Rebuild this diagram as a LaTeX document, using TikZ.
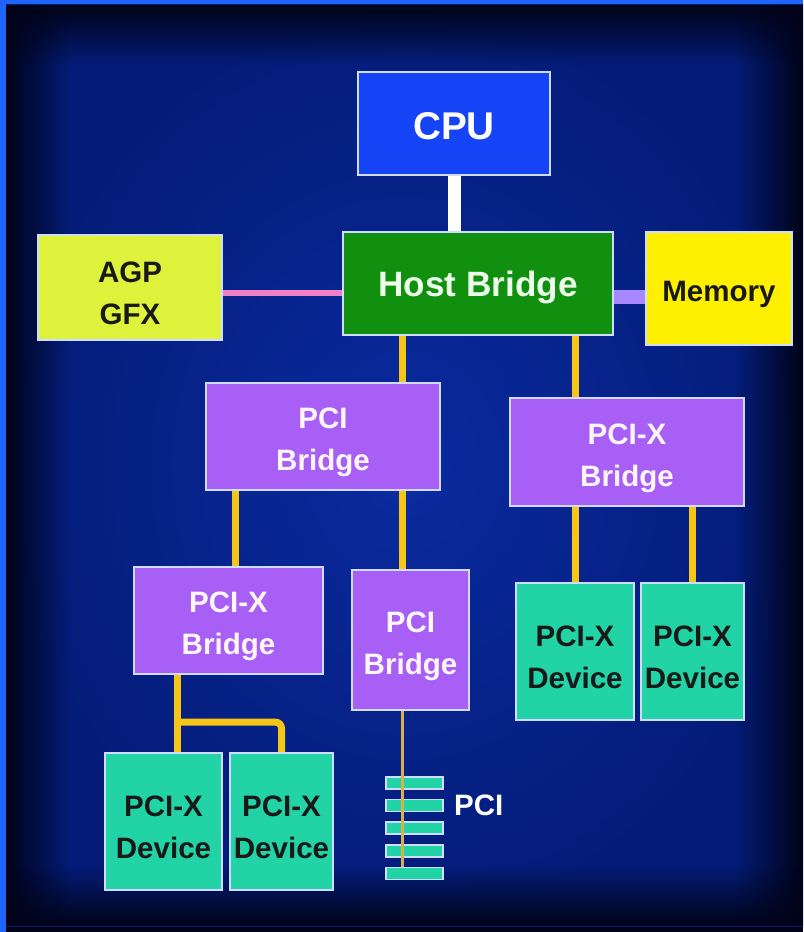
\documentclass[tikz,border=0pt]{standalone}
\usepackage{fontspec}
\setmainfont{Liberation Sans}
\usetikzlibrary{
  calc
  , positioning
  , fadings
}
\definecolor{glowIn}{HTML}{0A2BA0}
\definecolor{glowOut}{HTML}{041C78}
\definecolor{glowEdge}{HTML}{000318}
\definecolor{frameBlue}{HTML}{1E64FF}
\definecolor{boxLine}{HTML}{D0DCFF}
\definecolor{cpuBlue}{HTML}{1444F5}
\definecolor{hostGreen}{HTML}{11900F}
\definecolor{agpYellow}{HTML}{DEF23C}
\definecolor{memYellow}{HTML}{FFF000}
\definecolor{bridgePurple}{HTML}{A85FF5}
\definecolor{devTeal}{HTML}{22D3A6}
\definecolor{busYellow}{HTML}{F5C518}
\definecolor{pciWire}{HTML}{D8B050}
\definecolor{agpPink}{HTML}{F080C8}
\definecolor{memLav}{HTML}{A888FF}
\tikzfading[name=fade right, left color=transparent!0, right color=transparent!100]
\tikzfading[name=fade left, left color=transparent!100, right color=transparent!0]
\tikzfading[name=fade down, top color=transparent!0, bottom color=transparent!100]
\tikzfading[name=fade up, top color=transparent!100, bottom color=transparent!0]
\newcommand\lift{\rule{0pt}{23.5pt}}

\tikzset{
  unit/.style={
    draw=boxLine, line width=0.04cm, rectangle, inner sep=0pt,
    align=center, font=\bfseries\fontsize{21}{30}\selectfont},
  bridge/.style={unit, fill=bridgePurple, text=pink!15},
  device/.style={unit, fill=devTeal, text=black!90,
    minimum height=3.425cm},
  bus/.style={busYellow, line width=0.175cm},
  slot/.style={draw=boxLine, line width=0.04cm, fill=devTeal,
    minimum width=1.425cm, minimum height=0.3cm, inner sep=0pt},
  vignette/.style={glowEdge, path fading=#1},
}

\begin{document}
\begin{tikzpicture}[x=0.025cm, y=-0.025cm]
  \useasboundingbox (0,0) rectangle (803,932);
  % slide background
  \fill[glowEdge] (0,0) rectangle (803,932);
  \fill[inner color=glowIn, outer color=glowOut] (6,5) rectangle (803,926);
  \fill[vignette=fade right] (6,5) rectangle (70,926);
  \fill[vignette=fade left] (735,5) rectangle (803,926);
  \fill[vignette=fade down] (6,5) rectangle (803,65);
  \fill[vignette=fade up] (6,865) rectangle (803,926);
  \fill[frameBlue] (0,0) rectangle (6,932);
  \fill[frameBlue] (0,0) rectangle (803,4);

  \node [unit, fill=cpuBlue, text=white,
    minimum width=4.8cm, minimum height=2.575cm,
    font=\bfseries\fontsize{27.5}{32}\selectfont] (cpu) at (454,123.5) {\lift CPU};
  \node [unit, fill=hostGreen, text=green!8,
    minimum width=6.75cm, minimum height=2.575cm,
    font=\bfseries\fontsize{25}{30}\selectfont] (host) at (478,283.5) {\lift Host Bridge};
  \node [unit, fill=agpYellow, text=black!90,
    minimum width=4.6cm, minimum height=2.625cm] (agp) at (130,287.5) {\lift AGP\\GFX};
  \node [unit, fill=memYellow, text=black!90,
    minimum width=3.65cm, minimum height=2.825cm] (mem) at (719,288.5) {\lift Memory};

  \node [bridge, minimum width=5.85cm, minimum height=2.675cm]
    (pcib) at (323,436.5) {\lift PCI\\Bridge};
  \node [bridge, minimum width=5.85cm, minimum height=2.7cm]
    (pxb) at (627,452) {\lift PCI-X\\Bridge};
  \node [bridge, minimum width=4.725cm, minimum height=2.675cm]
    (pxbl) at (228.5,620.5) {\lift PCI-X\\Bridge};
  \node [bridge, minimum width=2.925cm, minimum height=3.5cm]
    (pcibl) at (410.5,640) {\lift PCI\\Bridge};

  \node [device, minimum width=2.95cm] (devRA) at (575,651.5) {\lift PCI-X\\Device};
  \node [device, minimum width=2.575cm] (devRB) at (692.5,651.5) {\lift PCI-X\\Device};
  \node [device, minimum width=2.925cm] (devLA) at (163.5,821.5) {\lift PCI-X\\Device};
  \node [device, minimum width=2.575cm] (devLB) at (281.5,821.5) {\lift PCI-X\\Device};

  \foreach \i in {1,...,5}
    \node [slot] (slot\i) at (414.5,{783+(\i-1)*22.6}) {};
  \node [right=0.25cm of slot2, text=white, inner sep=0pt,
    font=\bfseries\fontsize{21}{30}\selectfont] (pcilbl) {PCI};

  % named bus columns
  \coordinate (pcibus) at ($(pcibl.north)+(-8,0)$);
  \coordinate (leftbus) at ($(pxbl.north)+(6.5,0)$);
  \coordinate (devbus) at ($(devLA.north)+(14,0)$);
  \coordinate (tee) at ($(devLA.north)+(0,-30)$);
  \coordinate (agplink) at ($(agp.east)+(0,5.5)$);
  \coordinate (memlink) at ($(mem.west)+(0,8.5)$);

  \draw[white, line width=0.325cm] (cpu.south) -- (cpu.south |- host.north);
  \draw[agpPink, line width=0.15cm] (agplink) -- (agplink -| host.west);
  \draw[memLav, line width=0.37cm] (memlink -| host.east) -- (memlink);

  \draw[bus] (host.south -| pcibus) -- (pcib.north -| pcibus);
  \draw[bus] (pcib.south -| pcibus) -- (pcibl.north -| pcibus);
  \draw[bus] (host.south -| devRA) -- (pxb.north -| devRA);
  \draw[bus] (pxb.south -| devRA) -- (devRA.north);
  \draw[bus] (pxb.south -| devRB) -- (devRB.north);
  \draw[bus] (pcib.south -| leftbus) -- (pxbl.north -| leftbus);
  \draw[bus] (pxbl.south -| devbus) -- (devLA.north -| devbus);
  \draw[bus, rounded corners=0.15cm]
    (tee -| devbus) -- (tee -| devLB) -- (devLB.north);

  \draw[pciWire, line width=0.07cm] (pcibl.south -| pcibus) -- (slot5.north -| pcibus);
\end{tikzpicture}
\end{document}
